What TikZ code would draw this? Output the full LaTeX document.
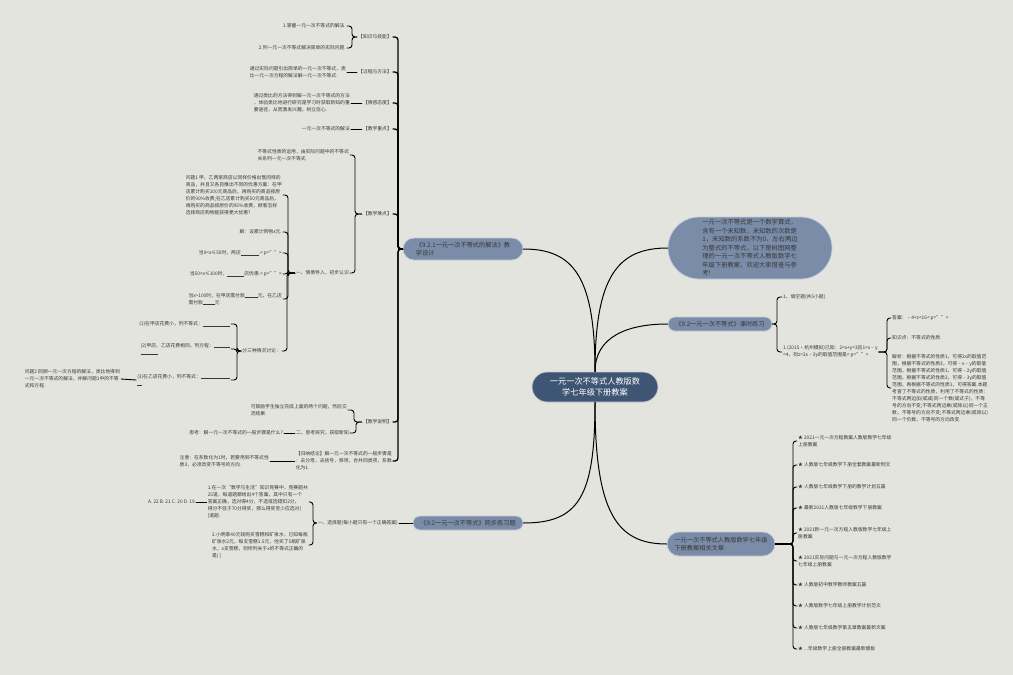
\documentclass[tikz,border=0pt]{standalone}
\usepackage{fontspec}
\setmainfont{Noto Sans CJK SC}

\definecolor{bgc}{RGB}{228,228,223}
\definecolor{rootc}{RGB}{62,86,116}
\definecolor{branchc}{RGB}{123,140,169}
\definecolor{txt}{RGB}{55,55,55}

\newcommand{\xblank}[1]{\rule[-0.4pt]{#1}{0.3pt}}

\tikzset{
  rootnode/.style={draw=white!70!rootc, line width=0.8pt, fill=rootc, text=white,
    rounded corners=15pt, minimum width=126pt, minimum height=30pt, inner sep=2pt,
    align=center, font=\fontsize{8.2}{11}\selectfont},
  branch/.style={draw=white!55!branchc, line width=0.8pt, fill=branchc, text=txt,
    inner sep=2pt, align=left, font=\fontsize{6.2}{8.6}\selectfont},
  leaf/.style={text=txt, inner sep=1pt, align=left, font=\fontsize{4.8}{7}\selectfont},
  lf/.style={leaf, anchor=east},
  rf/.style={leaf, anchor=west},
  lk/.style={line width=1pt},
  br/.style={line width=0.9pt, rounded corners=3pt},
}

\begin{document}
\begin{tikzpicture}[x=1pt, y=-1pt, line cap=round, line join=round]
  % sfondo
  \fill[bgc] (0,0) rectangle (1013,675);
  \useasboundingbox (0,0) rectangle (1013,675);

  % centro
  \node[rootnode] (root) at (595,387) {一元一次不等式人教版数\\学七年级下册教案};

  % rami principali
  \node[branch, minimum width=120pt, minimum height=22pt, rounded corners=11pt] (b1) at (463,249)
    {《9.2.1一元一次不等式的解法》教\\学设计};
  \node[branch, minimum width=110pt, minimum height=14pt, rounded corners=7pt] (b2) at (468,523)
    {《9.2一元一次不等式》同步练习题};
  \node[branch, minimum width=164pt, minimum height=62pt, rounded corners=31pt,
    font=\fontsize{6.3}{8.5}\selectfont] (r1) at (750,248)
    {一元一次不等式是一个数学算式，\\含有一个未知数，未知数的次数是\\1，未知数的系数不为0，左右两边\\为整式的不等式，以下是树图网整\\理的一元一次不等式人教版数学七\\年级下册教案，欢迎大家借鉴与参\\考!};
  \node[branch, minimum width=104pt, minimum height=14pt, rounded corners=7pt] (r2) at (720,324)
    {《9.2一元一次不等式》课时练习};
  \node[branch, minimum width=108pt, minimum height=24pt, rounded corners=12pt] (r3) at (721,544)
    {一元一次不等式人教版数学七年级\\下册教案相关文章:};

  %教学设计
  \node[lf] (k1) at (393,37) {【知识与技能】};
  \node[lf] (k1a) at (347,26) {1.掌握一元一次不等式的解法.};
  \node[lf] (k1b) at (347,48) {2.列一元一次不等式解决简单的实际问题.};
  \node[lf] (k2) at (393,72) {【过程与方法】};
  \node[lf] (k2a) at (347,72) {通过实际问题引出简单的一元一次不等式，类\\比一元一次方程的解法解一元一次不等式.};
  \node[lf] (k3) at (393,103) {【情感态度】};
  \node[lf] (k3a) at (351,103) {通过类比的方法得到解一元一次不等式的方法\\，体验类比地进行研究是学习时获取新知的重\\要途径，从而激发兴趣，树立信心.};
  \node[lf] (k4) at (393,129) {【教学重点】};
  \node[lf] (k4a) at (351,129) {一元一次不等式的解法};
  \node[lf] (k5) at (393,214) {【教学难点】};
  \node[lf] (d1) at (350,155) {不等式性质的运用，由实际问题中的不等式\\关系列一元一次不等式};
  \node[lf] (d2) at (350,273) {一、情境导入，初步认识};
  \node[lf] (e1) at (283,195) {问题1 甲、乙两家商店以同样价格出售同样的\\商品，并且又各自推出不同的优惠方案：在甲\\店累计购买100元商品后，再购买的商品按原\\价的90\%收费;在乙店累计购买50元商品后，\\再购买的商品按原价的95\%收费，顾客怎样\\选择商店购物能获得更大优惠?};
  \node[lf] (e2) at (283,232) {解：设累计购物x元.};
  \node[lf] (e3) at (283,253) {当0<x≤50时，两店\xblank{18pt}.< p="">};
  \node[lf] (e4) at (283,274) {当50<x≤100时，\xblank{17pt}店优惠.< p="">};
  \node[lf] (e5) at (283,299) {当x>100时，在甲店需付款\xblank{13pt}元，在乙店\\需付款\xblank{12pt}元};
  \node[lf] (e6) at (282,351) {分三种情况讨论：};
  \node[lf] (f1) at (231,324) {(1)在甲店花费小，列不等式：\xblank{27pt}};
  \node[lf] (f2) at (231,349) {(2)甲店、乙店花费相同，列方程：\xblank{16pt}\\\xblank{17pt}};
  \node[lf] (f3) at (231,380) {(3)在乙店花费小，列不等式：\xblank{29pt}\\\xblank{5pt}};
  \node[lf] (g1) at (121,379) {问题2 回顾一元一次方程的解法，类比地得到\\一元一次不等式的解法，并解问题1中的不等\\式和方程.};
  \node[lf] (k6) at (393,422) {【教学说明】};
  \node[lf] (h1) at (348,410) {可鼓励学生独立完成上面的两个问题，然后交\\流结果.};
  \node[lf] (h2) at (350,433) {二、思考探究，获取新知};
  \node[lf] (h3) at (284,433) {思考：解一元一次不等式的一般步骤是什么?};
  \node[lf] (k7) at (393,461) {【归纳结论】解一元一次不等式的一般步骤是\\：去分母，去括号，移项，合并同类项，系数\\化为1.};
  \node[lf] (k7a) at (270,461) {注意：在系数化为1时，若要用到不等式性\\质3，必须改变不等号的方向.};

  % 同步练习题
  \node[lf] (s1) at (399,523) {一、选择题(每小题只有一个正确答案)};
  \node[lf] (s2) at (309,502) {1.在一次“数学与生活”知识竞赛中，竞赛题共\\25道，每道题都给出4个答案，其中只有一个\\答案正确，选对得4分，不选或选错扣2分，\\得分不低于70分得奖，那么得奖至少应选对(\\)道题.};
  \node[lf] (s3) at (309,545) {2.小明拿40元钱购买雪糕和矿泉水，已知每瓶\\矿泉水2元，每支雪糕1.5元，他买了5瓶矿泉\\水，x支雪糕，则所列关于x的不等式正确的\\是( )};
  \node[lf] (s4) at (196,502) {A. 22 B. 21 C. 20 D. 19};

  % 课时练习
  \node[rf] (t1) at (782,297) {1、填空题(共5小题)};
  \node[rf] (t2) at (782,352) {1.(2015·杭州模拟)已知：2<x+y<3且1<x﹣y\\<4，则z=2x﹣3y的取值范围是< p="">};
  \node[rf] (u1) at (891,318) {答案：﹣4<z<16< p="">};
  \node[rf] (u2) at (891,338) {知识点：不等式的性质.};
  \node[rf] (u3) at (891,388) {解析：根据不等式的性质1，可得2x的取值范\\围，根据不等式的性质3，可得﹣x﹣y的取值\\范围，根据不等式的性质1，可得﹣2y的取值\\范围，根据不等式的性质2，可得﹣3y的取值\\范围，再根据不等式的性质1，可得答案.本题\\考查了不等式的性质，利用了不等式的性质：\\不等式两边加(或减)同一个数(或式子)，不等\\号的方向不变;不等式两边乘(或除以)同一个正\\数，不等号的方向不变;不等式两边乘(或除以)\\同一个负数，不等号的方向改变.};

  % 相关文章
  \foreach \yy/\txt [count=\i] in {
      441/{★ 2021一元一次方程教案人教版数学七年级\\上册教案},
      465/{★ 人教版七年级数学下册全套教案最新例文},
      487/{★ 人教版七年级数学下册的教学计划五篇},
      508/{★ 最新2021人教版七年级数学下册教案},
      533/{★ 2021新一元一次方程人教版数学七年级上\\册教案},
      561/{★ 2021实际问题与一元一次方程人教版数学\\七年级上册教案},
      585/{★ 人教版初中数学教师教案五篇},
      606/{★ 人教版数学七年级上册教学计划范文},
      628/{★ 人教版七年级数学第五章教案最新文案},
      649/{★ ...年级数学上册全册教案最新模板}} {
    \node[rf] (a\i) at (797,\yy) {\txt};
    \draw[br] (a\i.west) -- ++(-4,0) |- (r3.east);
  }

  % curve dal centro
  \draw[lk] (root.north) .. controls +(0,-95) and +(50,0) .. (b1.east);
  \draw[lk] (root.north) .. controls +(0,-95) and +(-50,0) .. (r1.west);
  \draw[lk] (root.north) .. controls +(0,-35) and +(-40,0) .. (r2.east -| r2.west);
  \draw[lk] (root.south) .. controls +(0,95) and +(55,0) .. (b2.east);
  \draw[lk] (root.south) .. controls +(0,110) and +(-50,0) .. (r3.west);

  % parentesi
  \foreach \c in {k1,k2,k3,k4,k5,k6,k7}
    \draw[br, line width=1.3pt] (\c.east) -- ++(5,0) |- (b1.west);
  \foreach \c in {k1a,k1b}
    \draw[br] (\c.east) -- ++(5,0) |- (k1.west);
  \draw[br] (k2a.east) -- (k2.west);
  \draw[br] (k3a.east) -- (k3.west);
  \draw[br] (k4a.east) -- (k4.west);
  \foreach \c in {d1,d2}
    \draw[br] (\c.east) -- ++(5,0) |- (k5.west);
  \foreach \c in {e1,e2,e3,e4,e5,e6}
    \draw[br] (\c.east) -- ++(5,0) |- (d2.west);
  \foreach \c in {f1,f2,f3}
    \draw[br] (\c.east) -- ++(6,0) |- (e6.west);
  \draw[br] (g1.east) -- (f3.west);
  \foreach \c in {h1,h2}
    \draw[br] (\c.east) -- ++(6,0) |- (k6.west);
  \draw[br] (h3.east) -- (h2.west);
  \draw[br] (k7a.east) -- (k7.west);
  \draw[br] (s1.east) -- (b2.west);
  \foreach \c in {s2,s3}
    \draw[br] (\c.east) -- ++(4,0) |- (s1.west);
  \draw[br] (s4.east) -- (s2.west);
  \foreach \c in {t1,t2}
    \draw[br] (\c.west) -- ++(-5,0) |- (r2.east);
  \foreach \c in {u1,u2,u3}
    \draw[br] (\c.west) -- ++(-4,0) |- (t2.east);
\end{tikzpicture}
\end{document}
